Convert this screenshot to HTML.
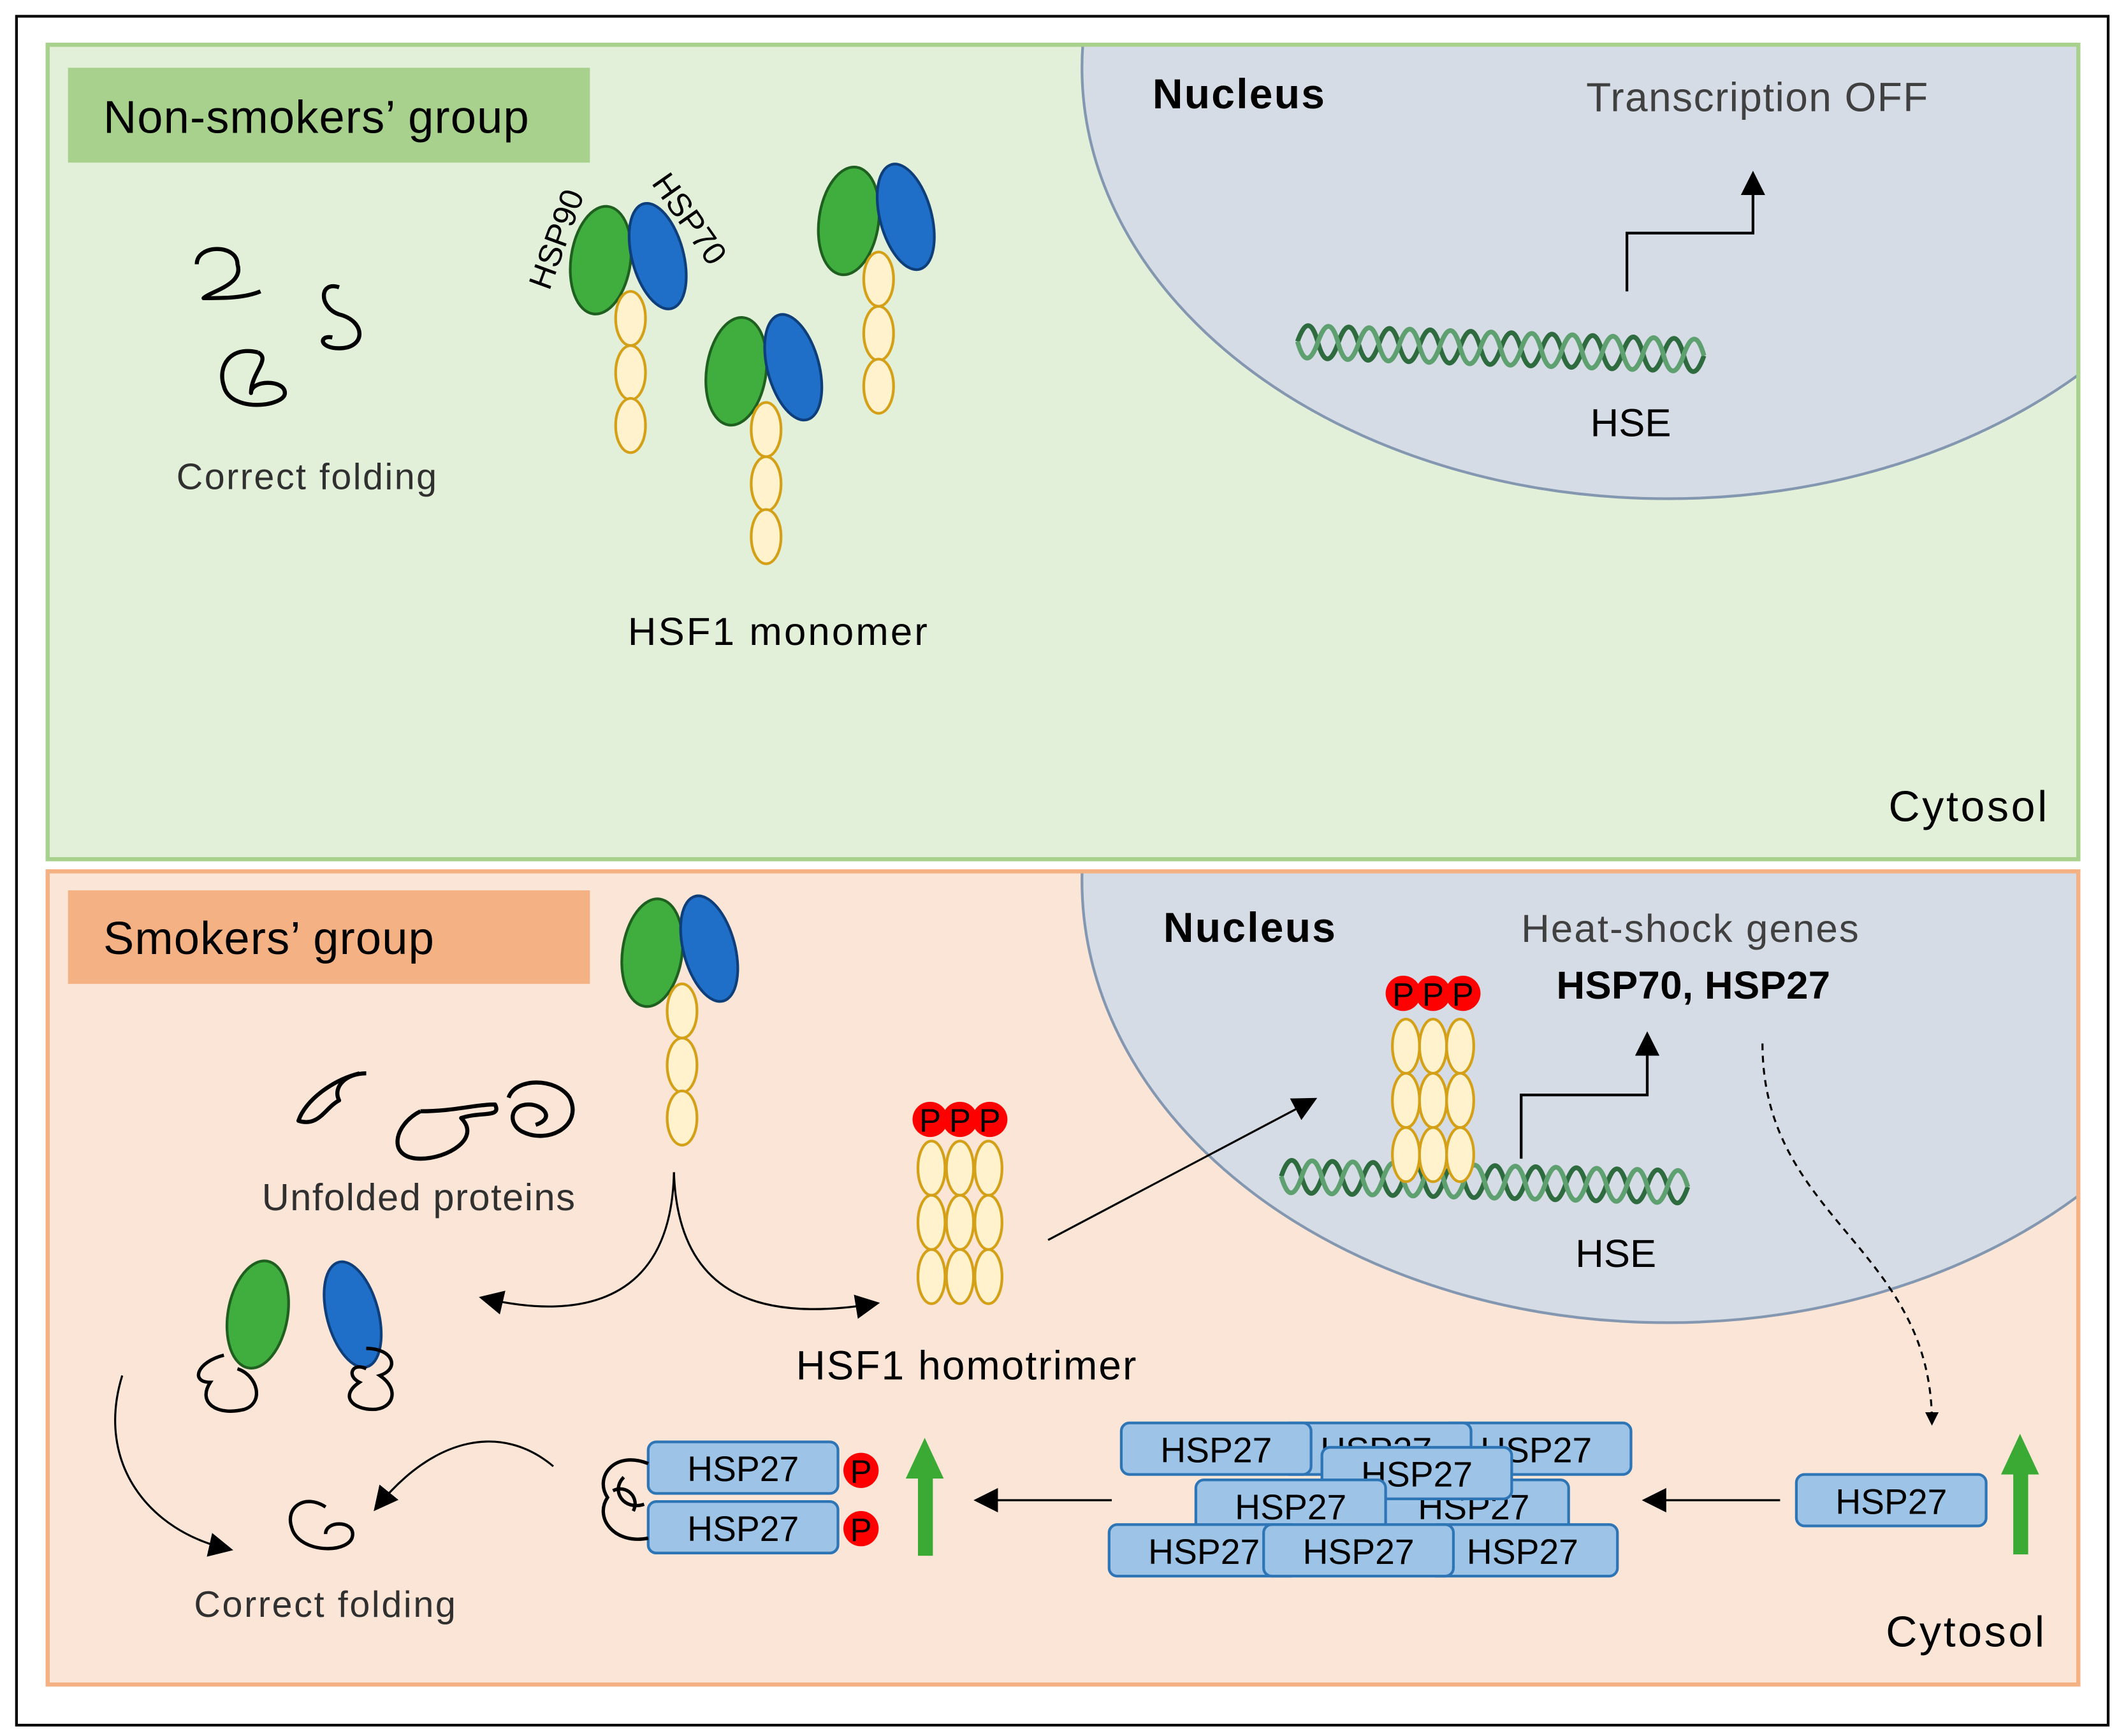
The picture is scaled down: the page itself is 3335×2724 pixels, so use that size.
<!DOCTYPE html>
<html><head><meta charset="utf-8"><style>
html,body{margin:0;padding:0;background:#fff}
svg{display:block}
text{font-family:"Liberation Sans",sans-serif}
</style></head><body>
<svg width="3335" height="2724" viewBox="0 0 1568 1281" xmlns="http://www.w3.org/2000/svg">
<defs>
<marker id="ah" markerWidth="10" markerHeight="10" refX="8" refY="5" orient="auto" markerUnits="userSpaceOnUse"><path d="M0,0 L10,5 L0,10 z" fill="#000"/></marker>
<marker id="ahb" markerWidth="18" markerHeight="18" refX="14" refY="9" orient="auto" markerUnits="userSpaceOnUse"><path d="M0,0 L18,9 L0,18 z" fill="#000"/></marker>
<clipPath id="c1"><rect x="35" y="33" width="1498" height="601"/></clipPath>
<clipPath id="c2"><rect x="35" y="643" width="1498" height="600"/></clipPath>
<g id="mono">
<ellipse cx="-22" cy="0" rx="22" ry="40" fill="#3fae3f" stroke="#1f5f1f" stroke-width="2" transform="rotate(8 -22 0)"/>
<ellipse cx="20" cy="-3" rx="19" ry="40" fill="#1f6fc8" stroke="#0f3f7a" stroke-width="2" transform="rotate(-15 20 -3)"/>
<ellipse cx="0" cy="43" rx="11" ry="20" fill="#fff2cc" stroke="#d4a017" stroke-width="2"/>
<ellipse cx="0" cy="83" rx="11" ry="20" fill="#fff2cc" stroke="#d4a017" stroke-width="2"/>
<ellipse cx="0" cy="122" rx="11" ry="20" fill="#fff2cc" stroke="#d4a017" stroke-width="2"/>
</g>
<g id="col">
<ellipse cx="0" cy="0" rx="10" ry="20" fill="#fff2cc" stroke="#d4a017" stroke-width="2"/>
<ellipse cx="0" cy="40" rx="10" ry="20" fill="#fff2cc" stroke="#d4a017" stroke-width="2"/>
<ellipse cx="0" cy="80" rx="10" ry="20" fill="#fff2cc" stroke="#d4a017" stroke-width="2"/>
</g>
<g id="dna">
<path d="M0,0 q7.5,-24 15,0 t15,0 t15,0 t15,0 t15,0 t15,0 t15,0 t15,0 t15,0 t15,0 t15,0 t15,0 t15,0 t15,0 t15,0 t15,0 t15,0 t15,0 t15,0 t15,0" fill="none" stroke="#2e6b3e" stroke-width="3.5"/>
<path d="M0,0 q7.5,24 15,0 t15,0 t15,0 t15,0 t15,0 t15,0 t15,0 t15,0 t15,0 t15,0 t15,0 t15,0 t15,0 t15,0 t15,0 t15,0 t15,0 t15,0 t15,0 t15,0" fill="none" stroke="#5fa070" stroke-width="3.5"/>
</g>
<g id="box"><rect x="0" y="0" width="140" height="38" rx="6" fill="#9dc3e6" stroke="#2e75b6" stroke-width="2"/></g>
</defs>
<rect x="12" y="12" width="1543" height="1261" fill="#fff" stroke="#000" stroke-width="2"/>
<!-- top panel -->
<rect x="35" y="33" width="1498" height="601" fill="#e2f0d9" stroke="#a9d18e" stroke-width="3"/>
<g clip-path="url(#c1)"><ellipse cx="1230" cy="50" rx="432" ry="318" fill="#d6dce5" stroke="#8497b0" stroke-width="2"/></g>
<rect x="35" y="33" width="1498" height="601" fill="none" stroke="#a9d18e" stroke-width="3"/>
<rect x="50" y="50" width="385" height="70" fill="#a9d18e"/>
<text x="76" y="98" font-size="34" textLength="314">Non-smokers’ group</text>
<text x="850" y="80" font-size="31" font-weight="bold" textLength="127">Nucleus</text>
<text x="1170" y="82" font-size="30" fill="#404040" textLength="252">Transcription OFF</text>
<path d="M1200,215 V172 H1293 V130" fill="none" stroke="#000" stroke-width="2" marker-end="url(#ahb)"/>
<g transform="translate(957,252) rotate(2)"><use href="#dna"/></g>
<text x="1173" y="322" font-size="29">HSE</text>
<text x="1393" y="606" font-size="32" textLength="117">Cytosol</text>
<g fill="none" stroke="#000" stroke-width="3" stroke-linejoin="round">
<path d="M145,195 c0,-15 30,-15 30,0 c5,15 -20,20 -25,25 c15,0 30,0 42,-5"/>
<path d="M250,212 c-15,-5 -15,15 0,20 c20,5 20,25 0,25 c-15,0 -15,-10 -5,-8"/>
<path d="M190,260 c-20,-5 -30,10 -25,25 c5,20 45,15 45,5 c0,-10 -25,-10 -25,0 c0,-15 15,-25 5,-30"/>
</g>
<text x="130" y="361" font-size="27" fill="#303030" textLength="192">Correct folding</text>
<use href="#mono" x="465" y="192"/>
<use href="#mono" x="648" y="163"/>
<use href="#mono" x="565" y="274"/>
<text font-size="24" transform="translate(405,215) rotate(-70)">HSP90</text>
<text font-size="24" transform="translate(480,135) rotate(55)">HSP70</text>
<text x="463" y="476" font-size="29" textLength="221">HSF1 monomer</text>
<!-- bottom panel -->
<rect x="35" y="643" width="1498" height="600" fill="#fbe5d6" stroke="#f4b183" stroke-width="3"/>
<g clip-path="url(#c2)"><ellipse cx="1230" cy="650" rx="432" ry="326" fill="#d6dce5" stroke="#8497b0" stroke-width="2"/></g>
<rect x="35" y="643" width="1498" height="600" fill="none" stroke="#f4b183" stroke-width="3"/>
<rect x="50" y="657" width="385" height="69" fill="#f4b183"/>
<text x="76" y="704" font-size="34" textLength="244">Smokers’ group</text>
<text x="858" y="695" font-size="31" font-weight="bold" textLength="127">Nucleus</text>
<text x="1122" y="695" font-size="29" fill="#404040" textLength="249">Heat-shock genes</text>
<text x="1148" y="737" font-size="29" font-weight="bold" textLength="202">HSP70, HSP27</text>
<g transform="translate(945,868) rotate(1.5)"><use href="#dna"/></g>
<use href="#col" x="1037" y="772"/><use href="#col" x="1057" y="772"/><use href="#col" x="1077" y="772"/>
<g fill="#f00"><circle cx="1035" cy="733" r="13"/><circle cx="1057" cy="733" r="13"/><circle cx="1079" cy="733" r="13"/></g>
<g font-size="24" text-anchor="middle"><text x="1035" y="742">P</text><text x="1057" y="742">P</text><text x="1079" y="742">P</text></g>
<path d="M1122,855 V808 H1215 V765" fill="none" stroke="#000" stroke-width="2" marker-end="url(#ahb)"/>
<text x="1162" y="935" font-size="29">HSE</text>
<path d="M1300,770 C1300,900 1425,920 1425,1050" fill="none" stroke="#000" stroke-width="1.5" stroke-dasharray="5,4" marker-end="url(#ah)"/>
<text x="1391" y="1215" font-size="32" textLength="117">Cytosol</text>
<use href="#mono" x="503" y="703"/>
<use href="#col" x="687" y="862"/><use href="#col" x="708" y="862"/><use href="#col" x="729" y="862"/>
<g fill="#f00"><circle cx="686" cy="826" r="13"/><circle cx="708" cy="826" r="13"/><circle cx="730" cy="826" r="13"/></g>
<g font-size="24" text-anchor="middle"><text x="686" y="835">P</text><text x="708" y="835">P</text><text x="730" y="835">P</text></g>
<text x="587" y="1018" font-size="30" textLength="251">HSF1 homotrimer</text>
<g fill="none" stroke="#000" stroke-width="3" stroke-linejoin="round">
<path d="M265,792 c-20,5 -40,20 -45,35 c15,5 20,-10 30,-15 c-5,-10 5,-20 20,-20"/>
<path d="M310,820 c-20,10 -25,35 0,35 c20,0 45,-15 30,-30 c15,-5 30,0 25,-10 c-15,0 -30,5 -55,5"/>
<path d="M375,810 c5,-15 35,-15 45,0 c10,20 -15,35 -35,25 c-10,-5 -10,-20 5,-20 c10,0 20,10 5,15"/>
</g>
<text x="193" y="893" font-size="28" fill="#303030" textLength="231">Unfolded proteins</text>
<path d="M497,865 C495,960 430,975 357,958" fill="none" stroke="#000" stroke-width="1.5" marker-end="url(#ahb)"/>
<path d="M497,865 C500,960 565,975 645,962" fill="none" stroke="#000" stroke-width="1.5" marker-end="url(#ahb)"/>
<path d="M773,915 L968,812" fill="none" stroke="#000" stroke-width="1.5" marker-end="url(#ahb)"/>
<ellipse cx="190" cy="970" rx="22" ry="40" fill="#3fae3f" stroke="#1f5f1f" stroke-width="2" transform="rotate(10 190 970)"/>
<ellipse cx="260" cy="970" rx="19" ry="40" fill="#1f6fc8" stroke="#0f3f7a" stroke-width="2" transform="rotate(-15 260 970)"/>
<g fill="none" stroke="#000" stroke-width="2.5">
<path d="M165,1000 c-20,5 -25,20 -10,20 c-10,15 5,25 25,20 c15,-5 10,-25 -5,-30"/>
<path d="M270,995 c20,0 25,15 10,20 c15,10 10,25 -5,25 c-15,0 -25,-10 -10,-20 c-10,-5 -5,-15 5,-10"/>
</g>
<path d="M90,1015 C70,1080 110,1130 168,1143" fill="none" stroke="#000" stroke-width="1.5" marker-end="url(#ahb)"/>
<path d="M408,1082 C370,1050 320,1060 278,1112" fill="none" stroke="#000" stroke-width="1.5" marker-end="url(#ahb)"/>
<path d="M240,1112 c-15,-10 -30,0 -25,15 c5,20 45,20 45,5 c0,-10 -20,-10 -20,0" fill="none" stroke="#000" stroke-width="2.5"/>
<text x="143" y="1193" font-size="27" fill="#303030" textLength="193">Correct folding</text>
<!-- HSP27 -->
<g font-size="26" text-anchor="middle">
<use href="#box" x="1325" y="1088"/><text x="1395" y="1117">HSP27</text>
<use href="#box" x="1063" y="1050"/><text x="1133" y="1079">HSP27</text>
<use href="#box" x="945" y="1050"/><text x="1015" y="1079">HSP27</text>
<use href="#box" x="827" y="1050"/><text x="897" y="1079">HSP27</text>
<use href="#box" x="1017" y="1092"/><text x="1087" y="1121">HSP27</text>
<use href="#box" x="975" y="1068"/><text x="1045" y="1097">HSP27</text>
<use href="#box" x="882" y="1092"/><text x="952" y="1121">HSP27</text>
<use href="#box" x="818" y="1125"/><text x="888" y="1154">HSP27</text>
<use href="#box" x="1053" y="1125"/><text x="1123" y="1154">HSP27</text>
<use href="#box" x="932" y="1125"/><text x="1002" y="1154">HSP27</text>
<use href="#box" x="478" y="1064"/><text x="548" y="1093">HSP27</text>
<use href="#box" x="478" y="1108"/><text x="548" y="1137">HSP27</text>
</g>
<g fill="#f00"><circle cx="635" cy="1085" r="13"/><circle cx="635" cy="1128" r="13"/></g>
<g font-size="24" text-anchor="middle"><text x="635" y="1094">P</text><text x="635" y="1137">P</text></g>
<path d="M478,1080 c-25,-10 -40,10 -30,25 c-10,15 5,35 30,30 M460,1090 c-10,10 0,25 15,20 M452,1100 c10,-5 20,5 15,15" fill="none" stroke="#000" stroke-width="2.5"/>
<path d="M1313,1107 L1215,1107" stroke="#000" stroke-width="1.5" marker-end="url(#ahb)"/>
<path d="M820,1107 L722,1107" stroke="#000" stroke-width="1.5" marker-end="url(#ahb)"/>
<g fill="#3aaa35">
<rect x="1485" y="1085" width="11" height="62"/><path d="M1476,1088 L1490,1058 L1504,1088 z"/>
<rect x="677" y="1088" width="11" height="60"/><path d="M668,1091 L682,1061 L696,1091 z"/>
</g>
</svg>
</body></html>
